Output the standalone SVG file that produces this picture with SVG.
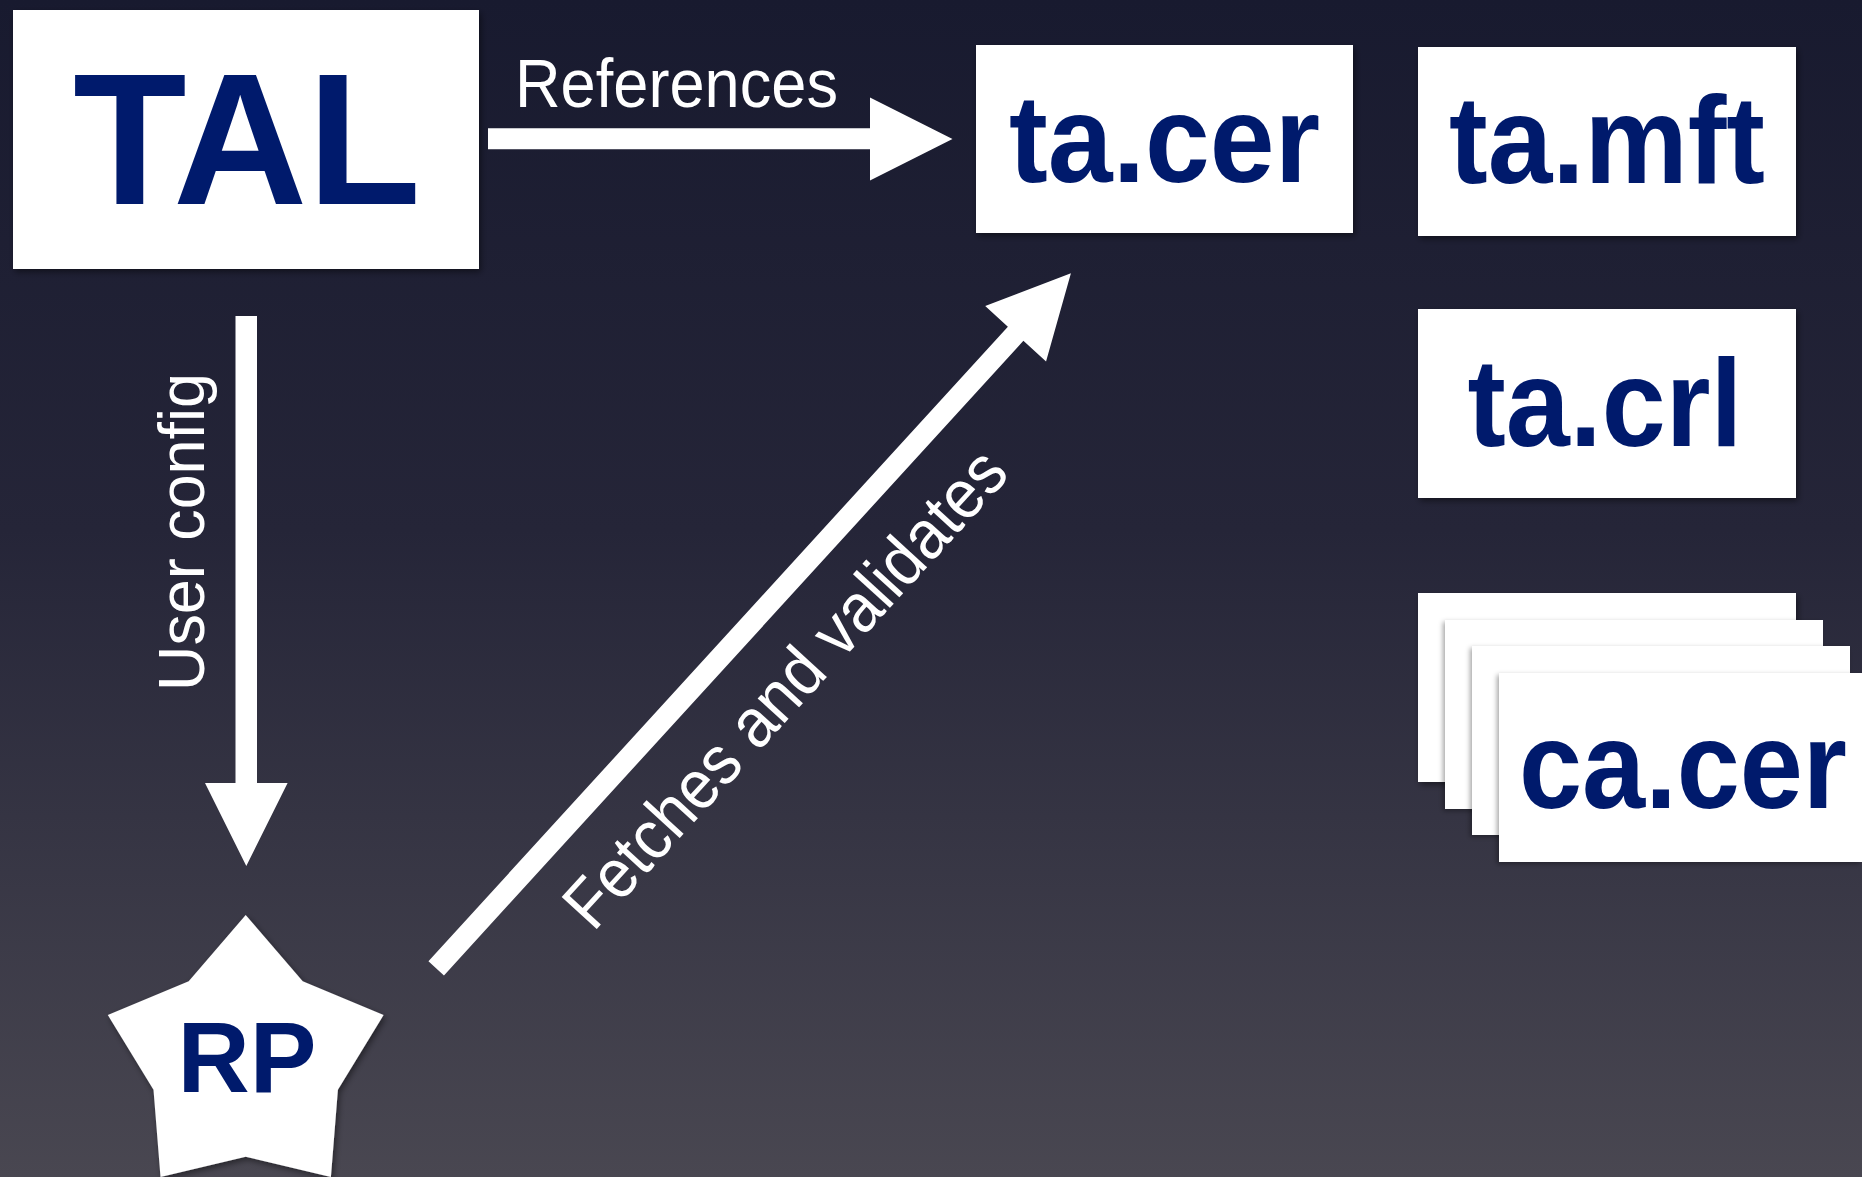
<svg xmlns="http://www.w3.org/2000/svg" width="1862" height="1177" viewBox="0 0 1862 1177">
  <defs>
    <linearGradient id="bg" x1="0" y1="0" x2="0" y2="1">
      <stop offset="0" stop-color="#181a2f"/>
      <stop offset="0.45" stop-color="#252538"/>
      <stop offset="1" stop-color="#494751"/>
    </linearGradient>
    <filter id="shadow" x="-10%" y="-10%" width="125%" height="130%">
      <feDropShadow dx="2" dy="3" stdDeviation="3" flood-color="#000" flood-opacity="0.45"/>
    </filter>
    <filter id="cardShadow" x="-10%" y="-10%" width="125%" height="130%">
      <feDropShadow dx="-2" dy="2" stdDeviation="2.5" flood-color="#000" flood-opacity="0.35"/>
    </filter>
  </defs>
  <style>
    .box { fill: #ffffff; filter: url(#shadow); }
    .card { fill: #ffffff; filter: url(#cardShadow); }
    .big { font-family: "Liberation Sans", Arial, sans-serif; font-weight: bold; fill: #001a6c; text-anchor: middle; }
    .label { font-family: "Liberation Sans", Arial, sans-serif; fill: #ffffff; }
    .arrow { fill: #ffffff; }
  </style>

  <rect x="0" y="0" width="1862" height="1177" fill="url(#bg)"/>

  <g id="node-tal">
    <rect class="box" x="13" y="10" width="466" height="259"/>
    <text class="big" x="247" y="204" font-size="187" textLength="348" lengthAdjust="spacingAndGlyphs">TAL</text>
  </g>

  <g id="node-ta-cer">
    <rect class="box" x="976" y="45" width="377" height="188"/>
    <text class="big" x="1164.5" y="182" font-size="124" textLength="311" lengthAdjust="spacingAndGlyphs">ta.cer</text>
  </g>

  <g id="node-ta-mft">
    <rect class="box" x="1418" y="47" width="378" height="189"/>
    <text class="big" x="1607" y="183" font-size="124" textLength="316" lengthAdjust="spacingAndGlyphs">ta.mft</text>
  </g>

  <g id="node-ta-crl">
    <rect class="box" x="1418" y="309" width="378" height="189"/>
    <text class="big" x="1605" y="446" font-size="124" textLength="275" lengthAdjust="spacingAndGlyphs">ta.crl</text>
  </g>

  <g id="node-ca-cer">
    <rect class="box" x="1418" y="593" width="378" height="189"/>
    <rect class="card" x="1445" y="620" width="378" height="189"/>
    <rect class="card" x="1472" y="646" width="378" height="189"/>
    <rect class="card" x="1499" y="673" width="363" height="189"/>
    <text class="big" x="1683" y="808" font-size="124" textLength="328" lengthAdjust="spacingAndGlyphs">ca.cer</text>
  </g>

  <g id="node-rp">
    <polygon class="box" points="245.7,915 302.7,981.3 383.6,1015 337.9,1089.7 330.9,1177 245.7,1156.7 160.5,1177 153.5,1089.7 107.8,1015 188.7,981.3"/>
    <text class="big" x="247" y="1092" font-size="100">RP</text>
  </g>

  <g id="connectors">
    <g id="edge-references">
      <polygon class="arrow" points="488,128.3 870,128.3 870,97.5 952.5,139 870,180.5 870,149.3 488,149.3"/>
      <text class="label" x="515" y="107" font-size="69" textLength="323" lengthAdjust="spacingAndGlyphs">References</text>
    </g>
    <g id="edge-user-config">
      <polygon class="arrow" points="235.5,316 257,316 257,783 287.6,783 246.3,866 205,783 235.5,783"/>
      <text class="label" transform="translate(204,532) rotate(-90)" text-anchor="middle" font-size="65" textLength="318" lengthAdjust="spacingAndGlyphs">User config</text>
    </g>
    <g id="edge-fetches" transform="translate(436.2,968.3) rotate(-47.6)">
      <polygon class="arrow" points="0,-10.5 859.3,-10.5 859.3,-41.2 941.3,0 859.3,41.2 859.3,10.5 0,10.5"/>
      <text class="label" x="132" y="92" font-size="69" textLength="620" lengthAdjust="spacingAndGlyphs">Fetches and validates</text>
    </g>
  </g>
</svg>
